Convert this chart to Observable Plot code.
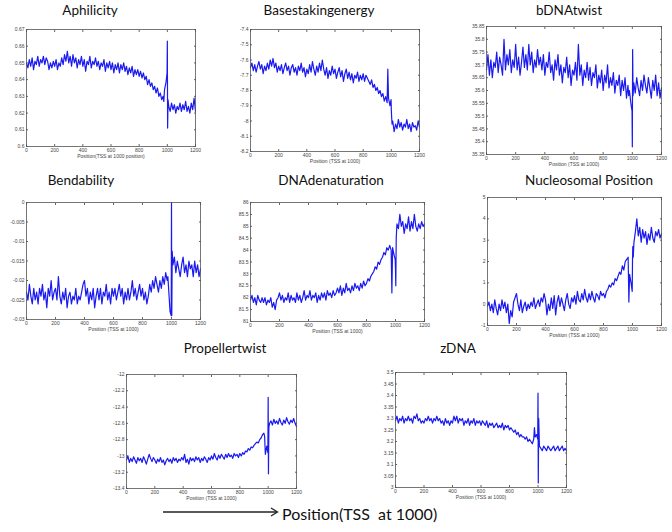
<!DOCTYPE html>
<html><head><meta charset="utf-8">
<script src="https://cdn.jsdelivr.net/npm/d3@7"></script>
<script src="https://cdn.jsdelivr.net/npm/@observablehq/plot@0.6"></script>
<style>
body{margin:0;background:#fff;}
#page{position:relative;width:672px;height:532px;overflow:hidden;font-family:Lato, sans-serif;}
.panel{position:absolute;}
.title{position:absolute;font-family:Lato, sans-serif;font-size:13.5px;color:#111;transform:translate(-50%,-50%);white-space:nowrap;line-height:1;}
.caption{position:absolute;left:282px;top:514px;transform:translateY(-50%);font-family:Lato, sans-serif;font-size:16px;color:#111;white-space:pre;line-height:1;}
.arrow{position:absolute;left:160px;top:505px;}
</style></head><body><div id="page"></div>
<script>
// sample positions along the promoter (TSS at 1000)
const positions = d3.range(0, 970, 10).concat([970, 975, 980, 990, 998, 1000, 1002, 1005]).concat(d3.range(1010, 1201, 10));
const xTicks = [0, 200, 400, 600, 800, 1000, 1200];

const aphilicity = [
 0.650,0.647,0.652,0.648,0.653,0.646,0.651,0.649,0.654,0.648,
 0.652,0.650,0.654,0.649,0.653,0.651,0.646,0.650,0.647,0.651,
 0.648,0.652,0.646,0.650,0.648,0.653,0.649,0.655,0.651,0.657,
 0.650,0.654,0.648,0.655,0.650,0.653,0.647,0.652,0.649,0.654,
 0.648,0.652,0.645,0.651,0.649,0.654,0.647,0.651,0.649,0.653,
 0.648,0.651,0.646,0.650,0.648,0.652,0.645,0.650,0.647,0.651,
 0.646,0.650,0.644,0.649,0.646,0.650,0.644,0.649,0.646,0.650,
 0.645,0.648,0.643,0.647,0.644,0.648,0.642,0.646,0.643,0.646,
 0.642,0.645,0.641,0.644,0.640,0.642,0.637,0.640,0.636,0.638,
 0.634,0.636,0.632,0.635,0.630,0.632,0.628,
 0.630,0.627,0.634,0.638,0.644,0.663,0.611,0.628,
 0.624,0.621,0.626,0.622,0.625,0.620,0.624,0.622,0.626,0.621,
 0.625,0.622,0.627,0.621,0.624,0.620,0.626,0.622,0.629,0.621];
const aphilicityTicks = [0.6,0.61,0.62,0.63,0.64,0.65,0.66,0.67];

const basestacking = [
 -7.65,-7.62,-7.67,-7.63,-7.68,-7.64,-7.61,-7.66,-7.63,-7.69,
 -7.64,-7.67,-7.62,-7.66,-7.60,-7.64,-7.59,-7.65,-7.62,-7.68,
 -7.64,-7.67,-7.63,-7.69,-7.65,-7.62,-7.67,-7.64,-7.70,-7.65,
 -7.63,-7.68,-7.65,-7.70,-7.64,-7.67,-7.62,-7.68,-7.65,-7.71,
 -7.66,-7.69,-7.63,-7.68,-7.61,-7.66,-7.70,-7.64,-7.68,-7.62,
 -7.67,-7.60,-7.66,-7.70,-7.65,-7.72,-7.67,-7.70,-7.64,-7.69,
 -7.66,-7.72,-7.68,-7.65,-7.71,-7.67,-7.74,-7.69,-7.66,-7.72,
 -7.68,-7.73,-7.69,-7.75,-7.70,-7.72,-7.68,-7.74,-7.70,-7.73,
 -7.69,-7.74,-7.70,-7.72,-7.74,-7.76,-7.73,-7.78,-7.76,-7.80,
 -7.78,-7.82,-7.80,-7.84,-7.82,-7.87,-7.84,
 -7.88,-7.66,-7.85,-7.90,-7.86,-7.93,-7.97,-8.02,
 -8.00,-8.07,-8.02,-8.05,-7.99,-8.04,-8.01,-8.06,-8.02,-8.04,
 -7.99,-8.05,-8.02,-8.07,-8.01,-8.04,-8.03,-8.06,-8.00,-8.04];
const basestackingTicks = [-8.2,-8.1,-8,-7.9,-7.8,-7.7,-7.6,-7.5,-7.4];

const bdnatwist = [
 35.68,35.74,35.66,35.72,35.65,35.71,35.69,35.75,35.67,35.73,
 35.70,35.66,35.80,35.68,35.74,35.70,35.76,35.67,35.72,35.69,
 35.78,35.68,35.73,35.66,35.71,35.77,35.69,35.74,35.68,35.78,
 35.70,35.75,35.67,35.72,35.69,35.76,35.70,35.73,35.68,35.74,
 35.66,35.71,35.69,35.75,35.67,35.70,35.64,35.72,35.68,35.74,
 35.66,35.70,35.63,35.69,35.67,35.73,35.65,35.70,35.62,35.68,
 35.66,35.71,35.64,35.78,35.66,35.70,35.62,35.68,35.65,35.71,
 35.64,35.69,35.62,35.67,35.65,35.70,35.61,35.66,35.63,35.68,
 35.60,35.66,35.63,35.70,35.61,35.65,35.62,35.67,35.59,35.64,
 35.62,35.66,35.58,35.64,35.60,35.65,35.57,
 35.62,35.58,35.60,35.55,35.52,35.38,35.76,35.58,
 35.63,35.59,35.65,35.61,35.58,35.64,35.60,35.66,35.62,35.59,
 35.65,35.61,35.57,35.64,35.60,35.66,35.58,35.63,35.57,35.61];
const bdnatwistTicks = [35.35,35.4,35.45,35.5,35.55,35.6,35.65,35.7,35.75,35.8,35.85];

const bendability = [
 -0.023,-0.025,-0.021,-0.024,-0.026,-0.022,-0.025,-0.023,-0.026,-0.022,
 -0.024,-0.021,-0.025,-0.023,-0.027,-0.022,-0.024,-0.020,-0.025,-0.023,
 -0.022,-0.025,-0.019,-0.024,-0.026,-0.023,-0.025,-0.022,-0.027,-0.024,
 -0.023,-0.026,-0.024,-0.025,-0.022,-0.026,-0.024,-0.025,-0.023,-0.021,
 -0.020,-0.024,-0.022,-0.026,-0.023,-0.025,-0.022,-0.027,-0.024,-0.022,
 -0.025,-0.022,-0.026,-0.023,-0.024,-0.021,-0.025,-0.023,-0.026,-0.022,
 -0.024,-0.022,-0.025,-0.023,-0.021,-0.024,-0.022,-0.026,-0.023,-0.025,
 -0.022,-0.025,-0.023,-0.020,-0.024,-0.022,-0.025,-0.023,-0.021,-0.024,
 -0.022,-0.025,-0.023,-0.026,-0.024,-0.021,-0.023,-0.020,-0.022,-0.019,
 -0.021,-0.023,-0.020,-0.022,-0.019,-0.021,-0.018,
 -0.020,-0.019,-0.022,-0.028,-0.029,0.000,-0.029,-0.0125,
 -0.016,-0.014,-0.018,-0.015,-0.017,-0.019,-0.016,-0.014,-0.018,-0.016,
 -0.019,-0.015,-0.017,-0.016,-0.019,-0.015,-0.018,-0.016,-0.019,-0.017];
const bendabilityTicks = [-0.03,-0.025,-0.02,-0.015,-0.01,-0.005,0];

const denaturation = [
 81.9,82.1,81.8,82.0,81.7,82.1,81.9,81.8,82.0,81.8,
 82.0,81.7,81.9,81.8,82.0,81.6,81.8,81.5,81.9,82.0,
 82.2,81.9,82.1,81.8,82.0,81.9,82.2,81.8,82.1,81.9,
 82.0,81.8,82.2,81.9,82.1,81.8,82.0,82.3,81.9,82.1,
 82.0,82.3,81.9,82.1,82.0,82.2,81.8,82.1,81.9,82.2,
 82.0,82.2,81.9,82.3,82.1,82.2,82.0,82.3,82.1,82.2,
 82.4,82.2,82.5,82.1,82.4,82.2,82.6,82.3,82.4,82.2,
 82.5,82.3,82.6,82.4,82.5,82.3,82.6,82.4,82.7,82.5,
 82.6,82.8,82.7,82.9,83.0,83.1,83.3,83.2,83.5,83.4,
 83.6,83.7,83.9,83.8,84.1,84.0,84.2,
 84.0,82.2,84.1,83.8,83.6,83.2,82.5,84.5,
 85.1,84.9,85.5,85.0,85.2,84.7,85.1,84.9,85.4,84.8,
 85.2,84.9,85.5,85.0,84.8,85.1,84.9,85.2,85.0,85.1];
const denaturationTicks = [81,81.5,82,82.5,83,83.5,84,84.5,85,85.5,86];

const nucleosomal = [
 -0.1,0.1,-0.3,0.0,-0.4,0.2,-0.2,-0.5,0.0,-0.3,
 0.2,-0.2,0.1,-0.4,0.0,-0.9,-0.3,-0.6,0.1,0.3,
 0.5,0.0,-0.3,0.2,-0.4,-0.1,0.1,-0.3,0.0,-0.2,
 0.1,-0.1,0.3,-0.2,0.0,0.2,-0.1,0.3,0.1,0.5,
 0.2,-0.5,0.0,-0.3,0.3,-0.2,0.4,-0.5,0.1,0.4,
 -0.1,0.3,0.0,-0.3,0.2,0.5,0.0,-0.2,0.3,0.1,
 0.4,0.0,0.6,0.2,0.1,0.5,0.2,0.7,0.3,0.1,
 0.5,0.2,0.6,0.3,0.1,0.5,0.4,0.2,0.6,0.4,
 0.5,0.3,0.6,0.7,0.9,0.8,1.0,0.9,1.2,1.1,
 1.3,1.5,1.4,1.8,1.6,2.0,2.1,
 2.2,0.1,1.4,1.0,0.6,2.0,2.7,2.2,
 2.9,3.4,4.0,3.2,3.6,2.9,3.5,3.1,3.4,2.8,
 3.3,3.0,3.6,3.1,2.9,3.4,3.2,3.5,3.1,3.3];
const nucleosomalTicks = [-1,0,1,2,3,4,5];

const propeller = [
 -13.05,-13.00,-13.08,-13.03,-13.07,-13.01,-13.05,-13.09,-13.02,-13.06,
 -13.03,-13.08,-13.01,-13.05,-13.10,-13.04,-12.98,-13.03,-13.07,-13.02,
 -13.05,-13.09,-13.04,-13.07,-13.02,-13.08,-13.05,-13.11,-13.06,-13.03,
 -13.07,-13.04,-13.09,-13.02,-13.06,-13.03,-13.08,-13.04,-13.06,-13.02,
 -13.05,-12.98,-13.08,-13.04,-13.10,-13.02,-13.06,-13.03,-13.07,-13.01,
 -13.05,-13.02,-13.08,-13.03,-13.06,-13.01,-13.04,-13.08,-13.02,-13.05,
 -13.00,-13.04,-12.97,-13.02,-13.05,-12.99,-13.03,-12.98,-13.01,-13.04,
 -12.98,-13.02,-12.97,-13.01,-12.99,-13.03,-12.97,-13.00,-12.98,-13.02,
 -12.97,-13.00,-12.96,-12.98,-12.94,-12.95,-12.91,-12.93,-12.89,-12.90,
 -12.87,-12.85,-12.83,-12.84,-12.80,-12.78,-12.74,
 -12.72,-12.76,-12.98,-12.88,-12.96,-12.28,-13.22,-12.65,
 -12.60,-12.57,-12.62,-12.55,-12.60,-12.57,-12.61,-12.54,-12.59,-12.62,
 -12.56,-12.60,-12.53,-12.58,-12.61,-12.56,-12.59,-12.54,-12.60,-12.64];
const propellerTicks = [-13.4,-13.2,-13,-12.8,-12.6,-12.4,-12.2,-12];

const zdna = [
 3.29,3.31,3.28,3.30,3.29,3.31,3.28,3.30,3.29,3.31,
 3.29,3.30,3.28,3.31,3.30,3.32,3.29,3.30,3.28,3.29,
 3.28,3.30,3.29,3.31,3.29,3.30,3.28,3.30,3.29,3.31,
 3.29,3.30,3.28,3.29,3.27,3.30,3.28,3.29,3.27,3.29,
 3.28,3.31,3.29,3.31,3.28,3.30,3.29,3.30,3.27,3.29,
 3.28,3.30,3.27,3.29,3.28,3.30,3.27,3.29,3.28,3.29,
 3.27,3.29,3.28,3.27,3.29,3.26,3.28,3.27,3.28,3.26,
 3.27,3.28,3.26,3.27,3.26,3.28,3.25,3.27,3.26,3.27,
 3.25,3.26,3.25,3.24,3.25,3.23,3.24,3.22,3.23,3.22,
 3.22,3.21,3.22,3.20,3.21,3.20,3.19,
 3.21,3.26,3.22,3.23,3.21,3.41,3.02,3.30,
 3.18,3.17,3.16,3.18,3.17,3.16,3.18,3.17,3.16,3.17,
 3.18,3.16,3.17,3.18,3.16,3.17,3.18,3.16,3.17,3.16];
const zdnaTicks = [3,3.05,3.1,3.15,3.2,3.25,3.3,3.35,3.4,3.45,3.5];

const titles = ["Aphilicity","Basestakingenergy","bDNAtwist","Bendability","DNAdenaturation","Nucleosomal Position","Propellertwist","zDNA"];
const xLabels = ["Position(TSS at 1000 position)","Position (TSS at 1000)","Position (TSS at 1000)","Position (TSS at 1000)","Position (TSS at 1000)","Position (TSS at 1000)","Position (TSS at 1000)","Position (TSS at 1000)"];
const seriesList = [aphilicity, basestacking, bdnatwist, bendability, denaturation, nucleosomal, propeller, zdna];
const tickList = [aphilicityTicks, basestackingTicks, bdnatwistTicks, bendabilityTicks, denaturationTicks, nucleosomalTicks, propellerTicks, zdnaTicks];
const captionText = "Position(TSS  at 1000)";

// layout: plot frame boxes [x0,y0,x1,y1] and title centers
const frames = [[26,29,195,146],[250,29,419,151],[486,26,661,154],[26,202,200,319],[250,202,424,321],[487,197,661,325],[126,374,296,488],[395,372,566,487]];
const titleAt = [[90,11],[319,11],[569,11],[81,181],[331,181],[589,181],[225,349],[458,349]];

const page = document.getElementById("page");
const mL=26, mR=4, mT=4, mB=16;
seriesList.forEach((vals, k) => {
  const [x0,y0,x1,y1] = frames[k];
  const ticks = tickList[k];
  const data = positions.map((x,i) => ({x, y: vals[i]}));
  const chart = Plot.plot({
    width: x1-x0+mL+mR, height: y1-y0+mT+mB,
    marginLeft: mL, marginRight: mR, marginTop: mT, marginBottom: mB,
    style: {fontSize: "5px", fontFamily: "Liberation Sans, Arial, sans-serif", color: "#444", background: "transparent", overflow: "visible"},
    x: {domain: [0,1200]},
    y: {domain: [ticks[0], ticks[ticks.length-1]]},
    marks: [
      Plot.axisX(xTicks, {tickSize: -2, tickPadding: 4, tickFormat: d => String(d), label: xLabels[k], labelAnchor: "center", labelArrow: "none", labelOffset: 11, stroke: "#666"}),
      Plot.axisX(xTicks, {anchor: "top", tickSize: -2, tickFormat: () => "", label: null, stroke: "#666"}),
      Plot.axisY(ticks, {tickSize: -2, tickPadding: 4, tickFormat: d => String(d), label: null, stroke: "#666"}),
      Plot.axisY(ticks, {anchor: "right", tickSize: -2, tickFormat: () => "", label: null, stroke: "#666"}),
      Plot.line(data, {x: "x", y: "y", stroke: "#1a1af0", strokeWidth: 1.2}),
      Plot.frame({stroke: "#555", strokeWidth: 0.8})
    ]
  });
  const div = document.createElement("div");
  div.className = "panel";
  div.style.left = (x0-mL) + "px";
  div.style.top = (y0-mT) + "px";
  div.appendChild(chart);
  page.appendChild(div);
  const t = document.createElement("div");
  t.className = "title";
  t.style.left = titleAt[k][0] + "px";
  t.style.top = titleAt[k][1] + "px";
  t.textContent = titles[k];
  page.appendChild(t);
});

const arrow = document.createElementNS("http://www.w3.org/2000/svg","svg");
arrow.setAttribute("class","arrow");
arrow.setAttribute("width","122");
arrow.setAttribute("height","14");
arrow.innerHTML = '<line x1="3" y1="7" x2="117" y2="7" stroke="#222" stroke-width="1.3"/><path d="M111,3 L117.5,7 L111,11" fill="none" stroke="#222" stroke-width="1.3"/>';
page.appendChild(arrow);
const cap = document.createElement("div");
cap.className = "caption";
cap.textContent = captionText;
page.appendChild(cap);
</script>
</body></html>
